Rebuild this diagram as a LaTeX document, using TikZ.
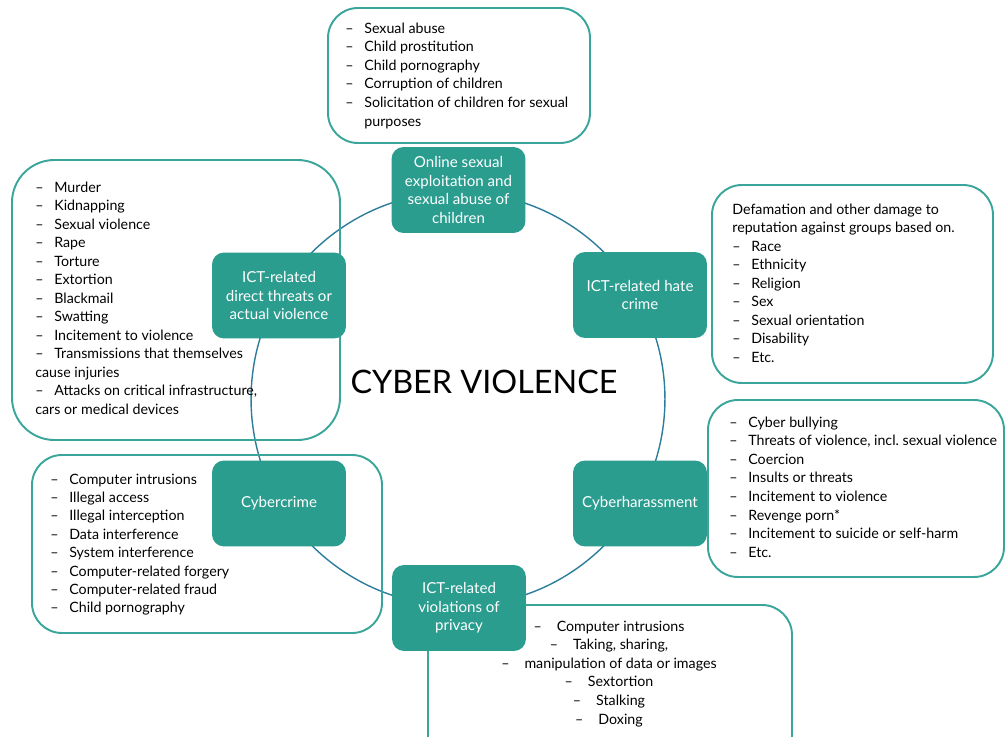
\documentclass[tikz,border=0pt]{standalone}
\usepackage{fontspec}
\setmainfont{Lato}

\definecolor{tealfill}{RGB}{42,157,143}
\definecolor{tealline}{RGB}{58,166,155}
\definecolor{ringblue}{RGB}{44,124,156}

\newcommand{\itemdash}{\makebox[0.38cm][l]{--}}

\tikzset{
  cat/.style={rectangle, rounded corners=0.24cm, fill=tealfill, text=white,
    minimum width=2.68cm, minimum height=1.72cm, align=center, inner sep=2pt,
    font=\fontsize{8.6}{10.6}\selectfont},
  listframe/.style={draw=tealline, line width=1.1pt, rounded corners=0.6cm},
  item/.style={anchor=base west, inner sep=0pt, font=\fontsize{8.1}{10.5}\selectfont},
  citem/.style={item, anchor=base},
}

\begin{document}
\begin{tikzpicture}[x=0.02cm, y=-0.02cm]
	\useasboundingbox (0,0) rectangle (1005,737);
	\clip (0,0) rectangle (1005,737);
	
	% ring
	\draw[ringblue, line width=0.8pt] (458,399) circle [radius=4.14cm];
	
	% frames round the lists
	\draw[listframe] (328,8) rectangle (590,143);
	\draw[listframe, rounded corners=0.85cm] (12,160) rectangle (340,440);
	\draw[listframe] (712,185) rectangle (993,383);
	\draw[listframe] (708,400) rectangle (1004,577);
	\draw[listframe] (32,455) rectangle (382,633);
	\draw[listframe] (428,605) rectangle (792,770);
	
	% top list
	\foreach \t [count=\i from 0] in {Sexual abuse, Child prostitution, Child pornography,
		Corruption of children, Solicitation of children for sexual}{
		\node[item] (abuse\i) at (345, 33+18.6*\i) {\itemdash\t};
	}
	\node[item] (abuse5) at (364, 33+18.6*5) {purposes};
	
	% left list
	\foreach \t [count=\i from 0] in {Murder, Kidnapping, Sexual violence, Rape, Torture,
		Extortion, Blackmail, Swatting, Incitement to violence, Transmissions that themselves}{
		\node[item] (violence\i) at (35, 192+18.5*\i) {\itemdash\t};
	}
	\node[item] (violence10) at (35, 192+18.5*10) {cause injuries};
	\node[item] (violence11) at (35, 192+18.5*11) {\itemdash Attacks on critical infrastructure,};
	\node[item] (violence12) at (35, 192+18.5*12) {cars or medical devices};
	
	% right list, top
	\node[item] (hate0) at (732, 214) {Defamation and other damage to};
	\node[item] (hate1) at (732, 214+18.5) {reputation against groups based on.};
	\foreach \t [count=\i from 2] in {Race, Ethnicity, Religion, Sex, Sexual orientation,
		Disability, Etc.}{
		\node[item] (hate\i) at (732, 214+18.5*\i) {\itemdash\t};
	}
	
	% right list, bottom
	\foreach \t [count=\i from 0] in {Cyber bullying, {Threats of violence, incl.\ sexual violence},
		Coercion, Insults or threats, Incitement to violence, Revenge porn*,
		Incitement to suicide or self-harm, Etc.}{
		\node[item] (harass\i) at (729, 427+18.6*\i) {\itemdash\t};
	}
	
	% left list, bottom
	\foreach \t [count=\i from 0] in {Computer intrusions, Illegal access, Illegal interception,
		Data interference, System interference, Computer-related forgery,
		Computer-related fraud, Child pornography}{
		\node[item] (crime\i) at (50, 484+18.4*\i) {\itemdash\t};
	}
	
	% bottom list
	\foreach \t [count=\i from 0] in {Computer intrusions, {Taking, sharing,},
		manipulation of data or images, Sextortion, Stalking, Doxing}{
		\node[citem] (privacy\i) at (609, 631+18.6*\i) {--\hspace{0.3cm}\t};
	}
	
	% categories
	\node[cat] (sexual) at (458.5,190) {Online sexual\\exploitation and\\sexual abuse of\\children};
	\node[cat] (threats) at (279,295.5) {ICT-related\\direct threats or\\actual violence};
	\node[cat] (hate) at (640,295) {ICT-related hate\\crime};
	\node[cat] (harass) at (640,503.5) {Cyberharassment};
	\node[cat] (crime) at (279,503.5) {Cybercrime};
	\node[cat] (privacy) at (459,608) {ICT-related\\violations of\\privacy};
	
	\node[font=\fontsize{18.4}{22}\selectfont] (title) at (484,382) {CYBER VIOLENCE};
\end{tikzpicture}
\end{document}
